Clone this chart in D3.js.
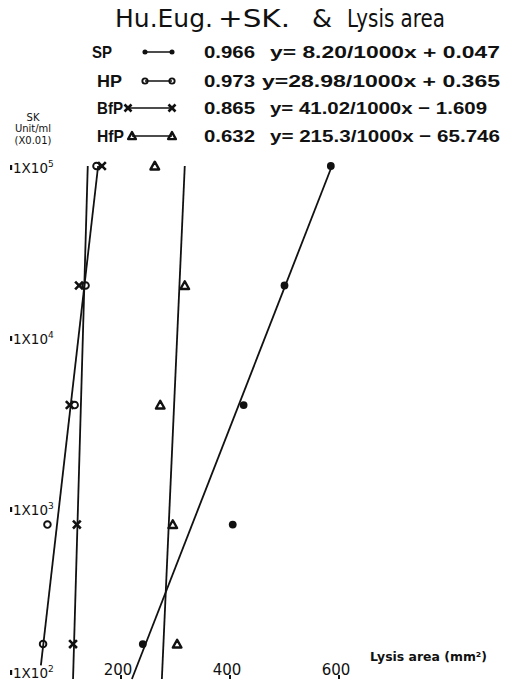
<!DOCTYPE html>
<html>
<head>
<meta charset="utf-8">
<script src="https://cdn.jsdelivr.net/npm/d3@7"></script>
<style>
  html, body { margin: 0; padding: 0; background: #fff; }
  svg { display: block; }
  text { fill: #111; font-family: "DejaVu Sans", "Liberation Sans", sans-serif; }
  .lg { font-family: "Liberation Sans", "DejaVu Sans", sans-serif; font-weight: bold; }
  .tt { font-family: "Liberation Sans", "DejaVu Sans", sans-serif; }
</style>
</head>
<body>
<svg id="chart" width="514" height="682"></svg>
<script>
// SK dilution levels (Unit/ml x0.01) and lysis areas (mm2) per plasminogen source
const skLevels = [100000, 20000, 4000, 800, 160];
const spArea  = [585, 500, 425, 405, 240];
const hpArea  = [155, 135, 115, 65, 57];
const bfpArea = [165, 123, 106, 119, 112];
const hfpArea = [262, 317, 272, 295, 303];

// fitted lines, as [lysis area, SK] end points
const spFit  = [[587, 100000], [220, 100]];
const hpFit  = [[158, 100000], [53, 120]];
const bfpFit = [[139, 100000], [112, 100]];
const hfpFit = [[317, 100000], [275, 100]];

const seriesNames = ["SP", "HP", "BfP", "HfP"];
const corrCoefs = ["0.966", "0.973", "0.865", "0.632"];
const equations = ["y= 8.20/1000x + 0.047", "y=28.98/1000x + 0.365", "y= 41.02/1000x \u2212 1.609", "y= 215.3/1000x \u2212 65.746"];

const xTicks = [200, 400, 600];
const yTicks = [100000, 10000, 1000, 100];

const svg = d3.select("#chart");
const x = d3.scaleLinear().domain([200, 600]).range([121, 339]);
const y = d3.scaleLog().domain([100, 100000]).range([679, 166]);

// title, in three spaced pieces
const title = svg.append("g").attr("class", "tt").attr("font-size", 24);
[["Hu.Eug.", 115, 98], ["+SK.", 218, 72], ["&", 312, 20], ["Lysis area", 347, 98]].forEach(([t, tx, w]) => {
  title.append("text").attr("x", tx).attr("y", 27)
    .attr("textLength", w).attr("lengthAdjust", "spacingAndGlyphs").text(t);
});

// marker drawing helpers
function drawMarker(g, kind, cx, cy, s) {
  if (kind === "SP") {
    g.append("circle").attr("cx", cx).attr("cy", cy).attr("r", 3.9 * s).attr("fill", "#111");
  } else if (kind === "HP") {
    g.append("circle").attr("cx", cx).attr("cy", cy).attr("r", 3.3 * s)
      .attr("fill", "none").attr("stroke", "#111").attr("stroke-width", 1.9);
  } else if (kind === "BfP") {
    const d = 3.9 * s;
    g.append("path").attr("d", `M${cx - d},${cy - d}L${cx + d},${cy + d}M${cx + d},${cy - d}L${cx - d},${cy + d}`)
      .attr("stroke", "#111").attr("stroke-width", 2.6).attr("fill", "none");
  } else {
    const d = 4.3 * s;
    g.append("path").attr("d", `M${cx},${cy - d}L${cx + d},${cy + d * 0.8}L${cx - d},${cy + d * 0.8}Z`)
      .attr("stroke", "#111").attr("stroke-width", 2.4).attr("fill", "none").attr("stroke-linejoin", "round");
  }
}

// legend
const legend = svg.append("g");
const rowY = [52, 81, 108, 136];
const labelX = [92, 97, 97, 97];
const labelW = [20, 25, 26, 27];
const eqX = [270, 262, 270, 270];
const eqW = [230, 238, 217, 230];
seriesNames.forEach((name, i) => {
  legend.append("text").attr("class", "lg").attr("x", labelX[i]).attr("y", rowY[i] + 6)
    .attr("font-size", 17).attr("textLength", labelW[i]).attr("lengthAdjust", "spacingAndGlyphs").text(name);
  const x0 = name === "BfP" ? 128 : (name === "HfP" ? 132 : 145);
  const x1 = 172;
  legend.append("line").attr("x1", x0).attr("x2", x1).attr("y1", rowY[i]).attr("y2", rowY[i])
    .attr("stroke", "#111").attr("stroke-width", 1.5);
  const s = name === "SP" ? 0.65 : (name === "HP" ? 0.8 : 0.9);
  drawMarker(legend, name, x0, rowY[i], s);
  drawMarker(legend, name, x1, rowY[i], s);
  legend.append("text").attr("class", "lg").attr("x", 204).attr("y", rowY[i] + 6)
    .attr("font-size", 17).attr("textLength", 51).attr("lengthAdjust", "spacingAndGlyphs").text(corrCoefs[i]);
  legend.append("text").attr("class", "lg").attr("x", eqX[i]).attr("y", rowY[i] + 6)
    .attr("font-size", 17).attr("textLength", eqW[i]).attr("lengthAdjust", "spacingAndGlyphs").text(equations[i]);
});

// y-axis title
const yTitle = svg.append("g").attr("font-size", 10);
[["SK", 117], ["Unit/ml", 128], ["(X0.01)", 140]].forEach(([t, ty]) => {
  yTitle.append("text").attr("x", 33).attr("y", ty + 3.5).attr("text-anchor", "middle").text(t);
});

// y tick labels
const yAxis = svg.append("g");
yTicks.forEach(v => {
  const ty = Math.min(y(v) + 2, 673);
  const exp = Math.round(Math.log10(v));
  yAxis.append("rect").attr("x", 10).attr("y", ty - 3).attr("width", 2.2).attr("height", 5).attr("fill", "#111");
  const t = yAxis.append("text").attr("x", 13).attr("y", ty + 5).attr("font-size", 13.5);
  t.append("tspan").text("1X10");
  t.append("tspan").attr("dy", -6).attr("font-size", 9).text(exp);
});

// x tick labels
const xAxis = svg.append("g");
xTicks.forEach(v => {
  xAxis.append("text").attr("x", x(v) - 3).attr("y", 675).attr("text-anchor", "middle")
    .attr("font-size", 15).text(v);
  xAxis.append("rect").attr("x", x(v) - 1).attr("y", 675).attr("width", 2).attr("height", 4).attr("fill", "#111");
});
svg.append("text").attr("x", 370).attr("y", 661).attr("font-size", 12).attr("font-weight", "bold")
  .attr("textLength", 117).attr("lengthAdjust", "spacingAndGlyphs").text("Lysis area (mm\u00B2)");

// fitted lines
const lineGen = d3.line().x(d => x(d[0])).y(d => y(d[1]));
[spFit, hpFit, bfpFit, hfpFit].forEach(f => {
  svg.append("path").attr("d", lineGen(f)).attr("fill", "none")
    .attr("stroke", "#111").attr("stroke-width", 1.8);
});

// data points
const points = svg.append("g");
[["SP", spArea], ["HP", hpArea], ["BfP", bfpArea], ["HfP", hfpArea]].forEach(([name, vals]) => {
  vals.forEach((v, i) => drawMarker(points, name, x(v), y(skLevels[i]), 1));
});
</script>
</body>
</html>
